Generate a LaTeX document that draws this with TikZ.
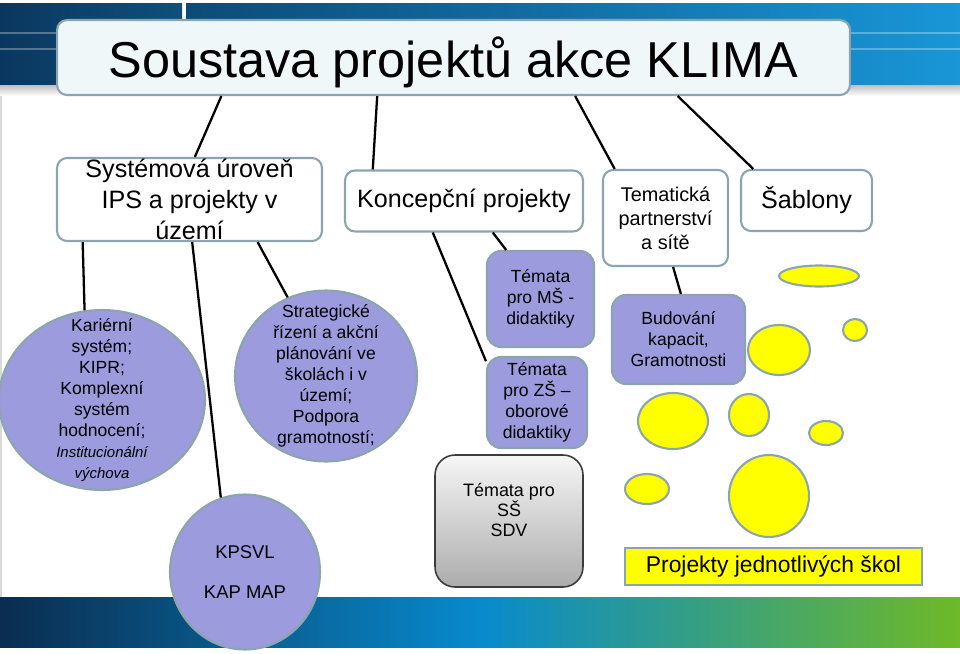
\documentclass[tikz,border=0pt]{standalone}
\usepackage{fontspec}
\setmainfont{Liberation Sans}
\usepackage{tikz}
\usetikzlibrary{calc,shapes.geometric}

\definecolor{rimgrey}{RGB}{140,165,172}
\definecolor{lavender}{RGB}{155,155,222}
\definecolor{titlefill}{RGB}{240,247,248}
\definecolor{spotyellow}{RGB}{255,255,0}

\begin{document}
\begin{tikzpicture}[x=0.02cm, y=-0.02cm,
    box/.style={draw=rimgrey, line width=1.2pt, rounded corners=0.2cm, fill=white, align=center, inner sep=0pt},
    bigtext/.style={font=\fontsize{14.3}{17.6}\selectfont},
    blob/.style={draw=rimgrey, line width=1.2pt, fill=lavender, ellipse, inner sep=0pt},
    blobtext/.style={align=center, font=\fontsize{10}{11.9}\selectfont},
    tile/.style={draw=rimgrey, line width=1.2pt, fill=lavender, rounded corners=0.28cm, align=center, inner sep=0pt, font=\fontsize{10}{11.9}\selectfont},
    spot/.style={draw=rimgrey, line width=1.2pt, fill=spotyellow},
    link/.style={line width=1.3pt}]
    \useasboundingbox (0,0) rectangle (960,653);

    % Banner and bottom bar
    \fill[left color={rgb,255:red,10;green,55;blue,95}, right color={rgb,255:red,14;green,80;blue,125}] (0,3) rectangle (182,85);
    \fill[left color={rgb,255:red,12;green,75;blue,120}, right color={rgb,255:red,25;green,150;blue,215}] (186,3) rectangle (960,85);
    \draw[white, opacity=0.3, line width=0.8pt] (0,33) -- (960,33);
    \draw[white, opacity=0.3, line width=0.8pt] (0,49) -- (960,49);
    \fill[top color=black!25, bottom color=white] (0,85) rectangle (960,96);
    \draw[black!15, line width=1pt] (1,96) -- (1,597);
    \fill[left color={rgb,255:red,10;green,45;blue,80}, right color={rgb,255:red,110;green,185;blue,40}, middle color={rgb,255:red,8;green,138;blue,205}] (0,597) rectangle (960,647);

    % Top row
    \node[box, fill=titlefill, minimum width=15.86cm, minimum height=1.5cm, text height=0.99cm, text depth=0.21cm, font=\fontsize{28.7}{34}\selectfont] (title) at (453.5,57.5) {Soustava projektů akce KLIMA};
    \node[box, bigtext, minimum width=5.3cm, minimum height=1.66cm] (sys) at (189.5,199.5) {Systémová úroveň\\IPS a projekty v\\území};
    \node[box, bigtext, minimum width=4.76cm, minimum height=1.22cm] (kon) at (464,201) {Koncepční projekty};
    \node[box, minimum width=2.5cm, minimum height=1.92cm, font=\fontsize{11.3}{13.6}\selectfont] (tem) at (665.5,218) {Tematická\\partnerství\\a sítě};
    \node[box, bigtext, minimum width=2.62cm, minimum height=1.22cm] (sab) at (806.5,200.5) {Šablony};

    % Ellipses
    \node[blob, minimum width=4.12cm, minimum height=3.6cm,
        label={[blobtext]center:Kariérní\\systém;\\KIPR;\\Komplexní\\systém\\hodnocení;\\{\itshape\fontsize{8.5}{11.9}\selectfont Institucionální}\\{\itshape\fontsize{8.5}{11.9}\selectfont výchova}}] (kar) at (102,400) {};
    \node[blob, minimum width=3.64cm, minimum height=3.42cm,
        label={[blobtext]center:Strategické\\řízení a akční\\plánování ve\\školách i v\\území;\\Podpora\\gramotností;}] (str) at (326,376) {};
    \node[blob, minimum width=3.0cm, minimum height=3.1cm,
        label={[blobtext, font=\fontsize{10.5}{11.7}\selectfont]center:KPSVL\\[11.5pt]KAP MAP}] (kps) at (245,572) {};

    % Tiles
    \node[tile, minimum width=2.14cm, minimum height=1.92cm] (ms) at (540.5,299) {Témata\\pro MŠ -\\didaktiky};
    \node[tile, minimum width=2.0cm, minimum height=1.82cm] (zs) at (537,402.5) {Témata\\pro ZŠ –\\oborové\\didaktiky};
    \node[tile, minimum width=2.66cm, minimum height=1.78cm] (bud) at (678.5,339.5) {Budování\\kapacit,\\Gramotnosti};
    \node[draw={rgb,255:red,60;green,60;blue,60}, line width=0.9pt, rounded corners=0.4cm, top color={rgb,255:red,246;green,246;blue,246}, bottom color={rgb,255:red,172;green,172;blue,172}, minimum width=2.96cm, minimum height=2.64cm] (ss) at (509,521) {};
    \node[align=center, font=\fontsize{10.2}{11.6}\selectfont] (sstext) at (509,510) {Témata pro\\SŠ\\SDV};
    \node[draw=rimgrey, line width=1.2pt, fill=spotyellow, minimum width=5.94cm, minimum height=0.74cm, inner sep=0pt, font=\fontsize{13}{15}\selectfont] (pro) at (773.5,566.5) {Projekty jednotlivých škol};

    % Yellow spots
    \draw[spot] (819,276) ellipse (40 and 10.5);
    \draw[spot] (855,330) ellipse (12 and 11);
    \draw[spot] (779,350) ellipse (31 and 25);
    \draw[spot] (673,421) ellipse (35 and 28);
    \draw[spot] (749,415) ellipse (20 and 21);
    \draw[spot] (826,433) ellipse (17 and 12);
    \draw[spot] (647,489) ellipse (22 and 15);
    \draw[spot] (769,496) ellipse (40 and 41);

    % Links
    \draw[link] ($(title.south west)!0.208!(title.south east)$) -- ($(sys.north west)!0.52!(sys.north east)$);
    \draw[link] ($(title.south west)!0.404!(title.south east)$) -- ($(kon.north west)!0.12!(kon.north east)$);
    \draw[link] ($(title.south west)!0.653!(title.south east)$) -- ($(tem.north west)!0.1!(tem.north east)$);
    \draw[link] ($(title.south west)!0.782!(title.south east)$) -- ($(sab.north west)!0.1!(sab.north east)$);
    \draw[link] ($(sys.south west)!0.10!(sys.south east)$) -- (kar.101);
    \draw[link] ($(sys.south west)!0.51!(sys.south east)$) -- (kps.108);
    \draw[link] ($(sys.south west)!0.755!(sys.south east)$) -- (str.116);
    \draw[link] ($(kon.south west)!0.37!(kon.south east)$) -- (zs.141);
    \draw[link] ($(kon.south west)!0.62!(kon.south east)$) -- (ms.125);
    \draw[link] ($(tem.south west)!0.56!(tem.south east)$) -- (bud.87);
\end{tikzpicture}
\end{document}
